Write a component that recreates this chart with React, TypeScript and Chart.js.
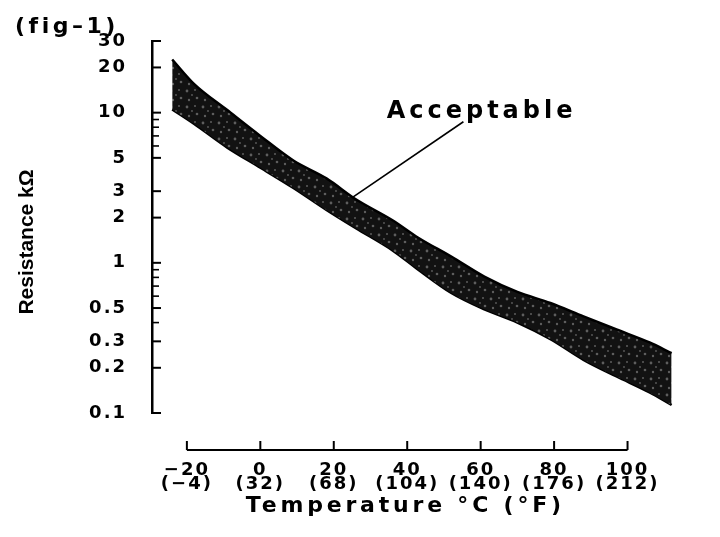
import React, { useEffect, useRef } from 'react';
import { Chart, registerables } from 'chart.js';

Chart.register(...registerables);

// ---- data ----
const temperatures = [-24, -18, -9, 0, 9, 18, 26, 36, 43, 52, 61, 70, 79, 88, 97, 106, 112];
const upperLimit = [22.6, 15.5, 10.4, 7.0, 4.8, 3.65, 2.65, 1.92, 1.47, 1.1, 0.81, 0.64, 0.54, 0.44, 0.36, 0.295, 0.25];
const lowerLimit = [10.5, 8.4, 5.85, 4.3, 3.15, 2.25, 1.7, 1.21, 0.9, 0.63, 0.49, 0.4, 0.31, 0.226, 0.175, 0.137, 0.113];

const xTickValues = [-20, 0, 20, 40, 60, 80, 100];
const xTickCelsius = ['\u221220', '0', '20', '40', '60', '80', '100'];
const xTickFahrenheit = ['(\u22124)', '(32)', '(68)', '(104)', '(140)', '(176)', '(212)'];

const yTickValues = [0.1, 0.2, 0.3, 0.5, 1, 2, 3, 5, 10, 20, 30];
const yMinorValues = [0.4, 0.6, 0.7, 0.8, 0.9, 6, 7, 8, 9];

const figLabel = '(fig\u20131)';
const xTitle = 'Temperature \u00b0C (\u00b0F)';
const yTitle = 'Resistance k\u03a9';
const annotationText = 'Acceptable';

const FONT = "'DejaVu Sans', 'Liberation Sans', sans-serif";

function makeTexture(): CanvasPattern | string {
  const c = document.createElement('canvas');
  c.width = 16;
  c.height = 16;
  const g = c.getContext('2d');
  if (!g) return '#1a1a1a';
  g.fillStyle = '#121212';
  g.fillRect(0, 0, 16, 16);
  g.fillStyle = '#5e5e5e';
  const spots = [
    [3, 3, 1.4],
    [11, 2, 1.0],
    [13, 10, 1.3],
    [5, 12, 1.2],
    [8, 7, 0.9],
  ];
  for (const [sx, sy, r] of spots) {
    g.beginPath();
    g.arc(sx, sy, r, 0, Math.PI * 2);
    g.fill();
  }
  const p = g.createPattern(c, 'repeat');
  return p || '#1a1a1a';
}

const decorPlugin = {
  id: 'decor',
  beforeUpdate(chart: any) {
    chart.ctx.letterSpacing = '2px';
  },
  beforeDraw(chart: any) {
    chart.ctx.letterSpacing = '2px';
  },
  afterDraw(chart: any) {
    const { ctx, chartArea, scales } = chart;
    const xs = scales.x;
    const ys = scales.y;
    const seg = (ax: number, ay: number, bx: number, by: number) => {
      ctx.beginPath();
      ctx.moveTo(ax, ay);
      ctx.lineTo(bx, by);
      ctx.stroke();
    };
    ctx.save();
    ctx.strokeStyle = '#000';
    ctx.fillStyle = '#000';

    // y-axis tick marks (pointing inward)
    ctx.lineWidth = 2;
    const left = chartArea.left;
    for (const v of yTickValues) {
      const py = ys.getPixelForValue(v);
      seg(left, py, left + 9, py);
    }
    ctx.lineWidth = 1.6;
    for (const v of yMinorValues) {
      const py = ys.getPixelForValue(v);
      seg(left, py, left + 7, py);
    }

    // detached x-axis line with upward ticks
    const axisY = chartArea.bottom + 37;
    const x0 = xs.getPixelForValue(xTickValues[0]);
    const x1 = xs.getPixelForValue(xTickValues[xTickValues.length - 1]);
    ctx.lineWidth = 2;
    seg(x0, axisY, x1, axisY);
    for (const v of xTickValues) {
      const px = xs.getPixelForValue(v);
      seg(px, axisY, px, axisY - 9);
    }

    // annotation leader line
    ctx.lineWidth = 1.6;
    seg(xs.getPixelForValue(55.3), ys.getPixelForValue(8.7), xs.getPixelForValue(25), ys.getPixelForValue(2.72));

    // annotation text
    ctx.font = `bold 24px ${FONT}`;
    ctx.letterSpacing = '4px';
    ctx.textAlign = 'left';
    ctx.textBaseline = 'alphabetic';
    ctx.fillText(annotationText, xs.getPixelForValue(34.4), ys.getPixelForValue(9.26));

    // figure label
    ctx.font = `bold 22px ${FONT}`;
    ctx.letterSpacing = '3.5px';
    ctx.textBaseline = 'middle';
    ctx.fillText(figLabel, 7, 19);

    // x title
    ctx.font = `bold 22px ${FONT}`;
    ctx.letterSpacing = '3.8px';
    ctx.textAlign = 'center';
    ctx.fillText(xTitle, xs.getPixelForValue(39.5), chartArea.bottom + 93);

    // y title
    ctx.save();
    ctx.translate(19, 234);
    ctx.rotate(-Math.PI / 2);
    ctx.font = "bold 21px 'Liberation Sans', sans-serif";
    ctx.letterSpacing = '0px';
    ctx.textAlign = 'center';
    ctx.textBaseline = 'middle';
    ctx.fillText(yTitle, 0, 0);
    ctx.restore();

    ctx.restore();
  },
};

export default function App() {
  const canvasRef = useRef<HTMLCanvasElement | null>(null);

  useEffect(() => {
    const canvas = canvasRef.current;
    if (!canvas) return;
    const texture = makeTexture();
    const tickFont = { family: FONT, size: 18, weight: 'bold' as const, lineHeight: 0.78 };

    const chart = new Chart(canvas, {
      type: 'line',
      data: {
        labels: temperatures,
        datasets: [
          {
            label: 'Upper limit',
            data: temperatures.map((t, i) => ({ x: t, y: upperLimit[i] })),
            borderColor: '#000',
            borderWidth: 2.5,
            backgroundColor: texture as any,
            fill: '+1',
            pointRadius: 0,
            cubicInterpolationMode: 'monotone',
          },
          {
            label: 'Lower limit',
            data: temperatures.map((t, i) => ({ x: t, y: lowerLimit[i] })),
            borderColor: '#000',
            borderWidth: 2.5,
            fill: false,
            pointRadius: 0,
            cubicInterpolationMode: 'monotone',
          },
        ],
      },
      options: {
        responsive: false,
        animation: false,
        layout: { padding: { top: 33, right: 22, left: 0, bottom: 0 } },
        plugins: {
          legend: { display: false },
          tooltip: { enabled: false },
          title: { display: false },
        },
        scales: {
          x: {
            type: 'linear',
            min: -29.5,
            max: 116.2,
            afterBuildTicks: (s: any) => {
              s.ticks = xTickValues.map((v) => ({ value: v }));
            },
            afterFit: (s: any) => {
              s.height = 116;
            },
            ticks: {
              autoSkip: false,
              maxRotation: 0,
              padding: 50,
              color: '#000',
              font: tickFont,
              callback: (_v: any, i: number) => [xTickCelsius[i], xTickFahrenheit[i]],
            },
            grid: { display: false, drawTicks: false },
            border: { display: false },
          },
          y: {
            type: 'logarithmic',
            min: 0.1,
            max: 30,
            afterBuildTicks: (s: any) => {
              s.ticks = yTickValues.map((v) => ({ value: v }));
            },
            afterFit: (s: any) => {
              s.width = 144;
            },
            ticks: {
              autoSkip: false,
              padding: 25,
              color: '#000',
              font: tickFont,
              callback: (v: any) => String(v),
            },
            grid: { display: false, drawTicks: false },
            border: { display: true, color: '#000', width: 2.5 },
          },
        },
      },
      plugins: [decorPlugin],
    } as any);

    return () => chart.destroy();
  }, []);

  return (
    <div style={{ width: 704, height: 521 }}>
      <canvas ref={canvasRef} width={704} height={521} style={{ display: 'block' }} />
    </div>
  );
}
